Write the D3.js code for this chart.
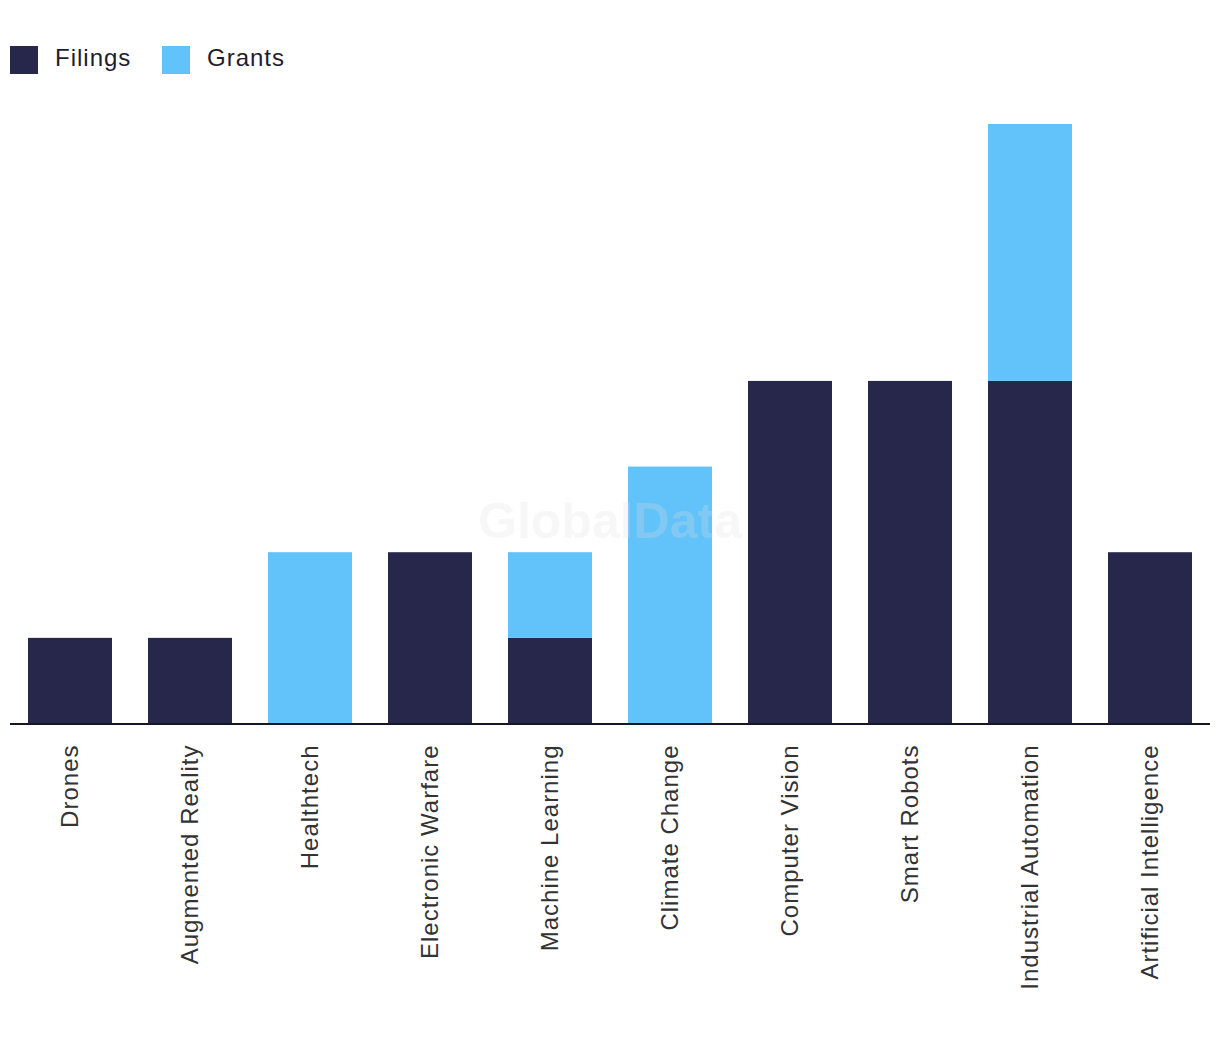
<!DOCTYPE html>
<html>
<head>
<meta charset="utf-8">
<script src="https://cdn.jsdelivr.net/npm/d3@7"></script>
<style>
  html, body { margin: 0; padding: 0; background: #fff; }
  svg { display: block; }
</style>
</head>
<body>
<svg id="chart" width="1220" height="1042"></svg>
<script>
const categories = ["Drones", "Augmented Reality", "Healthtech", "Electronic Warfare", "Machine Learning",
  "Climate Change", "Computer Vision", "Smart Robots", "Industrial Automation", "Artificial Intelligence"];
const filings = [1, 1, 0, 2, 1, 0, 4, 4, 4, 2];
const grants  = [0, 0, 2, 0, 1, 3, 0, 0, 3, 0];
const seriesNames = ["Filings", "Grants"];
const colors = ["#26274a", "#62c2fa"];

const svg = d3.select("#chart");
const plotLeft = 10, plotRight = 1210, baseline = 723.5, plotTop = 124;

const x = d3.scaleBand().domain(categories).range([plotLeft, plotRight]).paddingInner(0.3).paddingOuter(0.15);
const y = d3.scaleLinear().domain([0, 7]).range([baseline, plotTop]);

const table = categories.map((c, i) => ({ cat: c, Filings: filings[i], Grants: grants[i] }));
const stacked = d3.stack().keys(seriesNames)(table);

svg.append("g").selectAll("g").data(stacked).join("g")
  .attr("fill", (d, i) => colors[i])
  .selectAll("rect").data(d => d).join("rect")
  .attr("x", d => x(d.data.cat))
  .attr("width", x.bandwidth())
  .attr("y", d => y(d[1]))
  .attr("height", d => y(d[0]) - y(d[1]));

// watermark
svg.append("text")
  .attr("x", 610).attr("y", 538)
  .attr("text-anchor", "middle")
  .attr("font-family", "Liberation Sans, Arial, sans-serif")
  .attr("font-weight", "bold")
  .attr("font-size", 50)
  .attr("fill", "#e0e0e0")
  .attr("fill-opacity", 0.25)
  .text("GlobalData");

// x axis
const xAxis = d3.axisBottom(x).tickSize(0).tickPadding(0);
const gx = svg.append("g").attr("transform", `translate(0,${baseline})`).call(xAxis);
gx.select(".domain").remove();
gx.append("line").attr("x1", plotLeft).attr("x2", plotRight).attr("y1", 0.5).attr("y2", 0.5)
  .attr("stroke", "#15152a").attr("stroke-width", 2);
gx.selectAll(".tick text")
  .attr("font-family", "Liberation Sans, Arial, sans-serif")
  .attr("font-size", 24)
  .attr("letter-spacing", 1)
  .attr("fill", "#333")
  .attr("text-anchor", "end")
  .attr("dy", "0.35em")
  .attr("transform", "translate(0,21) rotate(-90)")
  .attr("x", 0).attr("y", 0);

// legend
const legend = svg.append("g").attr("transform", "translate(10,46)");
seriesNames.forEach((s, i) => {
  const offs = [0, 152][i];
  const g = legend.append("g").attr("transform", `translate(${offs},0)`);
  g.append("rect").attr("width", 28).attr("height", 28).attr("fill", colors[i]);
  g.append("text").attr("x", 45).attr("y", 12).attr("dy", "0.35em")
    .attr("font-family", "Liberation Sans, Arial, sans-serif")
    .attr("letter-spacing", 1)
    .attr("font-size", 24).attr("fill", "#1d1d2e").text(s);
});
</script>
</body>
</html>
